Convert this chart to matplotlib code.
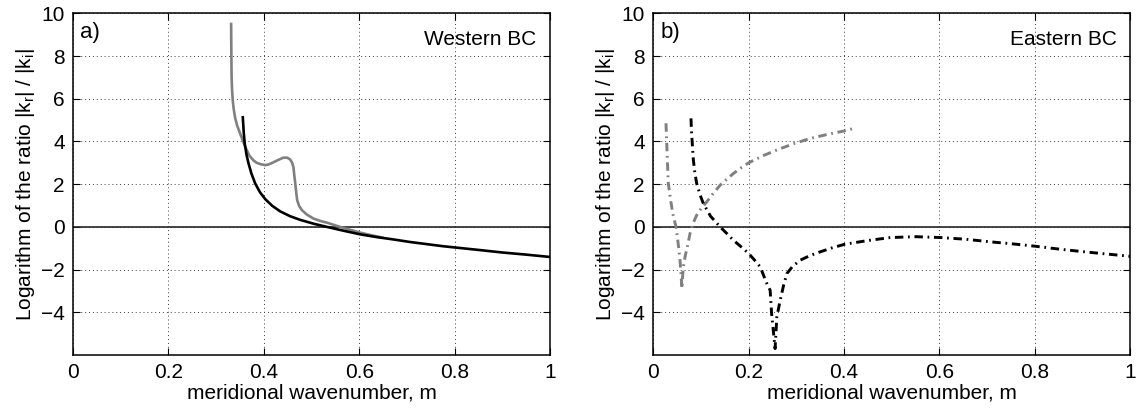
import matplotlib
matplotlib.use("Agg")
import matplotlib.pyplot as plt

plt.rcParams['font.family'] = ['Liberation Sans', 'DejaVu Sans']
plt.rcParams['mathtext.fontset'] = 'custom'
plt.rcParams['mathtext.rm'] = 'Liberation Sans'
plt.rcParams['mathtext.it'] = 'Liberation Sans'

# ---- data ----
west_gray_m = [0.3315, 0.332, 0.3325, 0.3335, 0.335, 0.337, 0.340, 0.344, 0.349, 0.355,
               0.362, 0.370, 0.378, 0.385, 0.394, 0.403, 0.411, 0.420, 0.430, 0.441,
               0.449, 0.455, 0.459, 0.462, 0.464, 0.466, 0.468, 0.470, 0.474, 0.480,
               0.490, 0.504, 0.518, 0.532, 0.550, 0.567, 0.585, 0.602, 0.625, 0.648]
west_gray_val = [9.50, 8.0, 7.0, 6.4, 5.9, 5.5, 5.1, 4.75, 4.45, 4.1,
                 3.7, 3.33, 3.12, 3.0, 2.93, 2.89, 2.93, 3.02, 3.13, 3.24,
                 3.24, 3.16, 3.02, 2.81, 2.4, 2.03, 1.6, 1.25, 0.98, 0.78,
                 0.58, 0.39, 0.28, 0.20, 0.07, -0.05, -0.16, -0.27, -0.39, -0.50]

west_black_m = [0.356, 0.358, 0.360, 0.364, 0.368, 0.374, 0.382, 0.392, 0.403, 0.418,
                0.434, 0.455, 0.476, 0.504, 0.532, 0.567, 0.602, 0.637, 0.672, 0.707,
                0.742, 0.777, 0.803, 0.85, 0.9, 0.95, 1.0]
west_black_val = [5.13, 4.4, 3.9, 3.35, 2.97, 2.5, 2.03, 1.62, 1.3, 0.98,
                  0.73, 0.5, 0.33, 0.15, 0.0, -0.18, -0.35, -0.48, -0.59, -0.71,
                  -0.81, -0.91, -0.97, -1.08, -1.20, -1.30, -1.41]

east_gray_m = [0.0266, 0.029, 0.0315, 0.036, 0.041, 0.0476, 0.052, 0.056, 0.058, 0.060,
               0.0615, 0.063, 0.067, 0.0713, 0.077, 0.083, 0.091, 0.100, 0.112, 0.125,
               0.14, 0.155, 0.168, 0.185, 0.2, 0.23, 0.259, 0.295, 0.329, 0.365, 0.4, 0.42]
east_gray_val = [4.85, 3.4, 2.03, 1.3, 0.6, 0.0, -0.75, -1.56, -2.2, -2.89,
                 -2.3, -1.87, -1.35, -0.94, -0.31, 0.15, 0.55, 0.85, 1.17, 1.55,
                 1.95, 2.25, 2.5, 2.78, 3.0, 3.33, 3.6, 3.9, 4.14, 4.33, 4.49, 4.61]

east_black_m = [0.079, 0.080, 0.082, 0.084, 0.087, 0.091, 0.098, 0.105, 0.12, 0.14,
                0.155, 0.168, 0.185, 0.2, 0.212, 0.224, 0.238, 0.245, 0.248, 0.2553,
                0.259, 0.266, 0.273, 0.280, 0.292, 0.308, 0.328, 0.35, 0.375, 0.402,
                0.45, 0.497, 0.55, 0.602, 0.655, 0.706, 0.755, 0.802, 0.85, 0.9, 0.95, 1.0]
east_black_val = [5.08, 4.5, 3.8, 3.13, 2.55, 2.03, 1.5, 1.09, 0.5, 0.0,
                  -0.33, -0.63, -0.95, -1.25, -1.55, -1.87, -2.65, -2.97, -4.06, -5.70,
                  -4.22, -3.44, -2.75, -2.19, -1.85, -1.56, -1.35, -1.17, -0.98, -0.81,
                  -0.64, -0.50, -0.46, -0.50, -0.58, -0.70, -0.80, -0.91, -1.04, -1.16, -1.27, -1.38]

xticks = [0, 0.2, 0.4, 0.6, 0.8, 1]
xticklabels = ['0', '0.2', '0.4', '0.6', '0.8', '1']
yticks = [-4, -2, 0, 2, 4, 6, 8, 10]
yticklabels = ['\u22124', '\u22122', '0', '2', '4', '6', '8', '10']
panel_labels = ['a)', 'b)']
panel_titles = ['Western BC', 'Eastern BC']
xlabel = 'meridional wavenumber, m'
ylabel = 'Logarithm of the ratio |k$_r$| / |k$_i$|'

FS = 15
fig = plt.figure(figsize=(11.4, 4.09), dpi=100)
ax1 = fig.add_axes([73/1140, 54/409, 477/1140, 341.7/409])
ax2 = fig.add_axes([653.3/1140, 54/409, 477/1140, 341.7/409])

dashdot = (0, (2.9, 1.6, 0.6, 1.6))

for ax, lab, title in zip([ax1, ax2], panel_labels, panel_titles):
    ax.set_xlim(0, 1)
    ax.set_ylim(-6, 10)
    ax.set_xticks(xticks)
    ax.set_xticklabels(xticklabels, fontsize=FS)
    ax.set_yticks(yticks)
    ax.set_yticklabels(yticklabels, fontsize=FS)
    ax.tick_params(direction='in', top=True, right=True, length=5, width=0.8, pad=6)
    ax.grid(True, color='0.25', linestyle=(0, (1, 3)), linewidth=0.7)
    for s in ax.spines.values():
        s.set_linewidth(1.1)
    ax.axhline(0, color='0.15', linewidth=1.2, zorder=2)
    ax.set_xlabel(xlabel, fontsize=FS, labelpad=1)
    ax.set_ylabel(ylabel, fontsize=FS, labelpad=3)
    ax.text(0.015, 0.975, lab, transform=ax.transAxes, ha='left', va='top', fontsize=FS + 1)
    ax.text(0.972, 0.95, title, transform=ax.transAxes, ha='right', va='top', fontsize=FS)

ax1.plot(west_gray_m, west_gray_val, color='#808080', linewidth=1.9, zorder=3)
ax1.plot(west_black_m, west_black_val, color='black', linewidth=1.9, zorder=4)

ax2.plot(east_gray_m, east_gray_val, color='#808080', linewidth=2.1, linestyle=dashdot, zorder=3)
ax2.plot(east_black_m, east_black_val, color='black', linewidth=2.1, linestyle=dashdot, zorder=4)

fig.savefig('out.png', dpi=100)
